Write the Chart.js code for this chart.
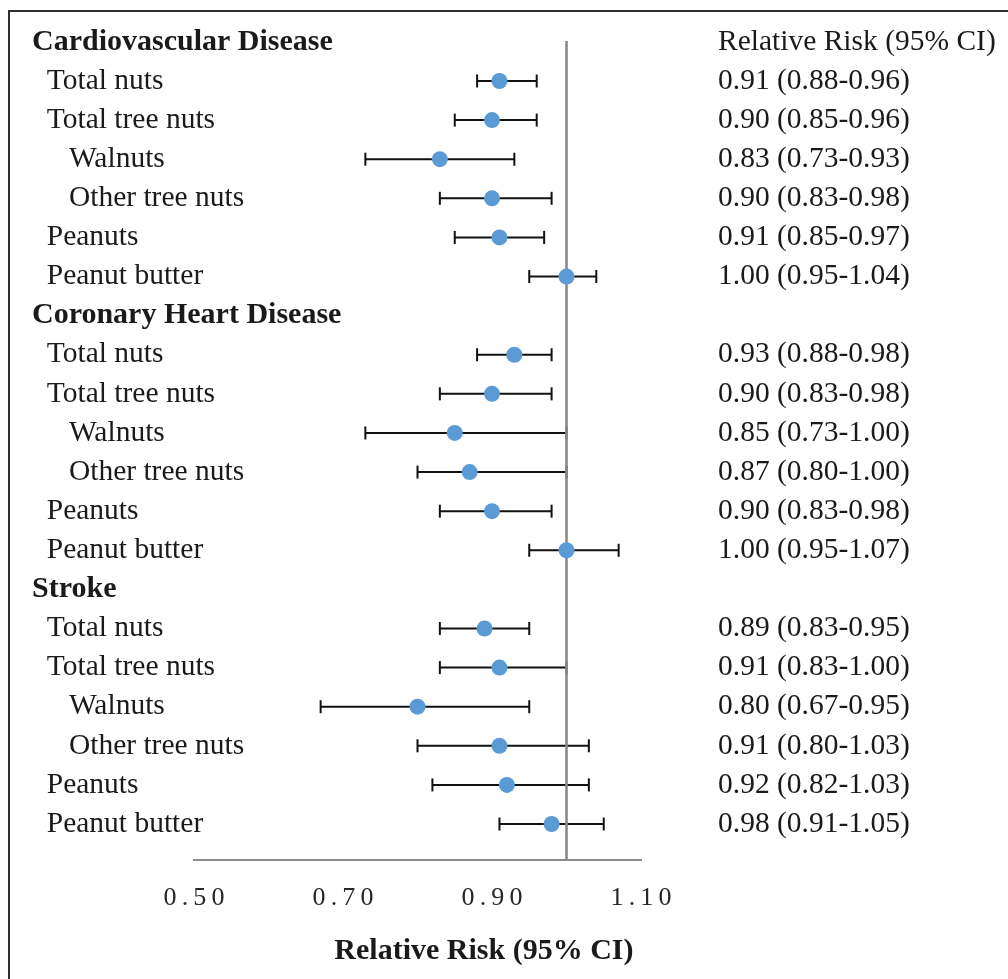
<!DOCTYPE html>
<html><head><meta charset="utf-8">
<script src="https://cdn.jsdelivr.net/npm/chart.js@4.4.1/dist/chart.umd.min.js"></script>
<style>
html,body{margin:0;padding:0;background:#fff;overflow:hidden;}
#wrap{position:relative;width:1008px;height:979px;}
#frame{position:absolute;left:8px;top:10px;width:1100px;height:1100px;border:2px solid #2e2e2e;box-sizing:border-box;}
#c{position:absolute;left:0;top:0;}
</style></head><body>
<div id="wrap"><div id="frame"></div><canvas id="c" width="1008" height="979"></canvas></div>
<script>
// ---- data ----
const rowLabels = [
  'Cardiovascular Disease','Total nuts','Total tree nuts','Walnuts','Other tree nuts','Peanuts','Peanut butter',
  'Coronary Heart Disease','Total nuts','Total tree nuts','Walnuts','Other tree nuts','Peanuts','Peanut butter',
  'Stroke','Total nuts','Total tree nuts','Walnuts','Other tree nuts','Peanuts','Peanut butter'
];
const rowLevels = [0,1,1,2,2,1,1, 0,1,1,2,2,1,1, 0,1,1,2,2,1,1];
const relRisk = [null,0.91,0.90,0.83,0.90,0.91,1.00, null,0.93,0.90,0.85,0.87,0.90,1.00, null,0.89,0.91,0.80,0.91,0.92,0.98];
const ciLower = [null,0.88,0.85,0.73,0.83,0.85,0.95, null,0.88,0.83,0.73,0.80,0.83,0.95, null,0.83,0.83,0.67,0.80,0.82,0.91];
const ciUpper = [null,0.96,0.96,0.93,0.98,0.97,1.04, null,0.98,0.98,1.00,1.00,0.98,1.07, null,0.95,1.00,0.95,1.03,1.03,1.05];
const columnHeader = 'Relative Risk (95% CI)';
const xTickValues = [0.50, 0.70, 0.90, 1.10];
const xAxisTitle = 'Relative Risk (95% CI)';
const nullEffect = 1.00;

// ---- derived ----
const fmt = v => v.toFixed(2);
const rightLabels = rowLabels.map((_, i) =>
  relRisk[i] == null ? (i === 0 ? columnHeader : '') :
  `${fmt(relRisk[i])} (${fmt(ciLower[i])}-${fmt(ciUpper[i])})`);
const leftLabels = rowLabels.map((t, i) => ' '.repeat([0, 2, 5][rowLevels[i]]) + t);

const Y_MIN = -0.56, Y_MAX = 20.92;
const serif = "'Liberation Serif','Times New Roman',Times,serif";

const whiskerData = [];
rowLabels.forEach((_, i) => {
  if (relRisk[i] == null) return;
  whiskerData.push({x: ciLower[i], y: i}, {x: ciUpper[i], y: i}, {x: null, y: null});
});
const pointData = rowLabels.map((_, i) => relRisk[i] == null ? null : {x: relRisk[i], y: i}).filter(Boolean);

const rowTicks = s => { s.ticks = rowLabels.map((_, i) => ({value: i})); };
const noPad = s => { s.paddingTop = 0; s.paddingBottom = 0; s.paddingLeft = 0; s.paddingRight = 0; };

new Chart(document.getElementById('c'), {
  type: 'scatter',
  data: {
    datasets: [
      { // confidence intervals
        data: whiskerData, showLine: true, spanGaps: false,
        borderColor: '#111', borderWidth: 2,
        pointStyle: 'line', rotation: 90, pointRadius: 6.5, pointBorderWidth: 2,
        pointBorderColor: '#111', pointBackgroundColor: '#111', order: 3
      },
      { // line of no effect
        data: [{x: nullEffect, y: -0.02}, {x: nullEffect, y: Y_MAX}],
        showLine: true, borderColor: '#8a8a8a', borderWidth: 2.6, pointRadius: 0, order: 2
      },
      { // point estimates
        data: pointData, pointRadius: 8, pointBackgroundColor: '#5B9BD5',
        pointBorderWidth: 0, borderWidth: 0, order: 1
      }
    ]
  },
  options: {
    responsive: false, animation: false,
    layout: {padding: {left: 32, top: 20, right: 0, bottom: 0}},
    plugins: {legend: {display: false}, tooltip: {enabled: false}},
    scales: {
      x: {
        type: 'linear', position: 'bottom', min: 0.5, max: 1.1,
        afterBuildTicks: s => { s.ticks = xTickValues.map(v => ({value: v})); },
        afterFit: s => { s.height = 119; noPad(s); },
        grid: {display: false, drawTicks: false},
        border: {display: true, color: '#8a8a8a', width: 2},
        ticks: {
          autoSkip: false, maxRotation: 0, padding: 23, color: '#262626',
          font: {family: serif, size: 26},
          callback: v => v.toFixed(2).split('').join('\u2009')
        },
        title: {
          display: true, text: xAxisTitle + ' ', align: 'end', color: '#1a1a1a',
          font: {family: serif, size: 30, weight: 'bold'}, padding: {top: 0, bottom: 10}
        }
      },
      y: {
        type: 'linear', position: 'left', reverse: true, min: Y_MIN, max: Y_MAX,
        afterBuildTicks: rowTicks,
        afterFit: s => { s.width = 162; noPad(s); },
        grid: {display: false, drawTicks: false}, border: {display: false},
        ticks: {
          autoSkip: false, mirror: true, crossAlign: 'near', padding: -162, color: '#1a1a1a',
          callback: (v) => leftLabels[v],
          font: c => rowLevels[c.index] === 0
            ? {family: serif, size: 30, weight: 'bold'}
            : {family: serif, size: 29.5, weight: 'normal'}
        }
      },
      yr: {
        type: 'linear', position: 'right', reverse: true, min: Y_MIN, max: Y_MAX,
        afterBuildTicks: rowTicks,
        afterFit: s => { s.width = 367; noPad(s); },
        grid: {display: false, drawTicks: false}, border: {display: false},
        ticks: {
          autoSkip: false, padding: 77, color: '#1a1a1a',
          callback: (v) => rightLabels[v],
          font: {family: serif, size: 29.5}
        }
      }
    }
  }
});
</script>
</body></html>
